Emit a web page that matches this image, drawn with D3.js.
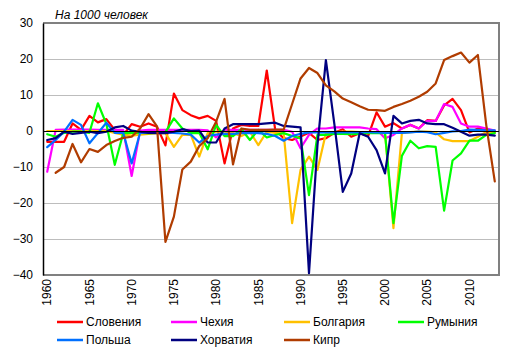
<!DOCTYPE html>
<html><head><meta charset="utf-8">
<script src="https://cdn.jsdelivr.net/npm/d3@7"></script>
<style>body{margin:0;background:#fff}svg{display:block}</style>
</head><body>
<svg id="c" width="515" height="357"></svg>
<script>
const years = d3.range(1960, 2014);
const xTickYears = [1960,1965,1970,1975,1980,1985,1990,1995,2000,2005,2010];
const yTicks = [30,20,10,0,-10,-20,-30,-40];
const titleText = "На 1000 человек";
const seriesNames = ["Словения","Чехия","Болгария","Румыния","Польша","Хорватия","Кипр"];
const seriesColors = ["#FF0000","#FF00FF","#FFC000","#00FF00","#0070FF","#000080","#B03C00"];

const slovenia = [-3,-3,-3,2.1,0.3,4.2,2.4,3.3,0.3,-1.1,
  1.9,1.2,2.1,1.2,-4,10.4,5.8,4.4,3.5,4.2,
  2.8,-9,0.7,1.7,1.4,1.4,16.8,0.3,-2,-2.5,
  -1.5,-0.5,-2.5,-2,-0.5,0.5,-1.6,-0.6,-1.4,5.2,
  1.2,2.2,0.7,1.7,0.7,3,2.8,7.1,8.9,5.8,
  -0.4,0.7,0.3,-0.4];
const czech = [-11.3,0.3,0.4,0.4,0.4,0.4,0.3,0.3,0.3,0.3,
  -12.5,0.1,0.3,0.3,0.3,0.3,0.3,0.3,0.3,0.2,
  -1.8,0.3,0.3,0.3,0.3,0.3,0.3,0.3,0.3,-0.2,
  -4.8,-1.1,0.7,0.7,1,1,1,1,0.7,0.5,
  -2,-1.1,0.7,1.7,0.7,2.8,2.8,7.5,6.7,2.1,
  1.2,1.2,0.7,0.1];
const bulgaria = [0,0,0,0,0,0,0,0,-0.5,-1,
  -1.3,-1,-0.8,-0.6,-0.6,-4.4,-1.1,-1,-7.1,-0.6,
  -0.2,-0.2,-0.6,-1.4,-0.2,-3.9,-0.2,-0.5,-0.5,-25.6,
  -10.8,-7.1,-10.8,-0.6,-0.3,-0.2,-0.2,-0.3,-0.3,-0.3,
  -0.6,-27,-0.6,-0.3,-0.2,-0.2,-0.4,-2.3,-2.8,-2.8,
  -2.8,-1.6,-0.3,-0.3];
const romania = [-0.9,-1.6,-0.5,-0.2,-0.2,-0.5,7.7,2,-9.4,-0.6,
  -0.5,-0.5,-0.6,-0.5,-0.3,3.5,0.7,-0.6,-0.5,-5.1,
  1.7,-1.4,-1.4,0.5,-2.5,0.3,-1.8,-1.1,-0.6,-1.4,
  -2,-17.8,-1.1,-1.1,-0.8,-0.8,-0.9,-0.8,-0.6,-0.6,
  -0.6,-25.6,-6.9,-2.7,-4.8,-4.2,-4.4,-22.1,-8.2,-6.2,
  -2.7,-2.7,-1.1,-0.6];
const poland = [-4.5,-2.5,-0.2,3.1,1.7,-3.4,-0.6,2.3,-0.5,-0.5,
  -9,-0.5,-0.5,-0.4,-0.4,-0.5,-0.7,-1,-3.2,-1.4,
  -1,-0.8,-0.8,-0.6,-0.5,-0.6,-0.8,-1.4,-2.7,-1.4,
  -0.8,-0.4,-0.4,-0.3,-0.4,-0.4,-0.4,-0.3,-0.3,-0.4,
  -0.5,-0.5,-0.5,-0.4,-0.2,-0.3,-0.9,-0.5,-0.1,0,
  0.4,0.3,0.2,0.2];
const croatia = [-2.5,-2,-0.2,-0.8,-0.5,-0.2,-0.6,-0.2,1,1.4,
  0.1,-0.2,-0.5,-0.6,-0.6,-0.2,0.5,0,0.1,-3.2,
  -3.2,0.7,1.9,1.9,1.9,1.9,2.1,2.3,1.4,1.2,
  1,-39.5,-4,19.7,2,-16.9,-11.8,-0.6,-1.6,-5.3,
  -11.8,4.2,2.1,2.8,3.1,2.1,1.9,1.9,0.9,-0.2,
  -1.3,-1,-1,-1.3];
const cyprus = [null,-11.6,-10,-3.6,-8.7,-5,-5.8,-3.9,-2.8,-1.9,
  -1.6,0.7,4.7,1.3,-30.8,-23.8,-10.7,-8.5,-4.2,-2,
  2.6,8.9,-9.3,0.7,0.3,0.3,0.3,0.4,0.4,7.5,
  14.6,17.5,16.1,12.7,11,9,8,6.9,5.9,5.8,
  5.6,6.7,7.5,8.4,9.5,10.9,13.2,19.7,20.8,21.8,
  19,21.1,1.5,-14];

const seriesValues = [slovenia, czech, bulgaria, romania, poland, croatia, cyprus];

const svg = d3.select("#c");
const L = 43, R = 499, T = 23, B = 275;
const FONT = "'Liberation Sans', Arial, sans-serif";

const x = d3.scaleBand().domain(years).range([L, R]).padding(0);
const xc = d => x(d) + x.bandwidth() / 2;
const y = d3.scaleLinear().domain([-40, 30]).range([B, T]);

// gridlines
svg.append("g").selectAll("line").data(yTicks.filter(v => v !== 0 && v !== 30 && v !== -40))
  .join("line").attr("x1", L).attr("x2", R)
  .attr("y1", d => y(d)).attr("y2", d => y(d))
  .attr("stroke", "#BDBDBD").attr("stroke-width", 1).attr("shape-rendering", "crispEdges");

// plot border (top, right, bottom)
svg.append("path")
  .attr("d", `M${L},${y(30)}H${R}V${y(-40)}H${L}`)
  .attr("fill", "none").attr("stroke", "#808080").attr("stroke-width", 1.5)
  .attr("shape-rendering", "crispEdges");

// y axis
const yAxis = d3.axisLeft(y).tickValues(yTicks).tickSize(0).tickPadding(10);
const gy = svg.append("g").attr("transform", `translate(${L},0)`).call(yAxis);
gy.select(".domain").attr("stroke", "#000").attr("stroke-width", 1.5);
gy.selectAll("text").attr("font-family", FONT).attr("font-size", 12).attr("fill", "#000");

// lines
const line = d3.line().defined(d => d.v !== null).x(d => xc(d.year)).y(d => y(d.v));
seriesValues.forEach((vals, i) => {
  const pts = years.map((yr, k) => ({year: yr, v: vals[k]}));
  svg.append("path").datum(pts)
    .attr("d", line).attr("fill", "none")
    .attr("stroke", seriesColors[i]).attr("stroke-width", 2.2)
    .attr("stroke-linejoin", "round").attr("stroke-linecap", "round");
});

// zero axis line
svg.append("line").attr("x1", L).attr("x2", R).attr("y1", y(0)).attr("y2", y(0))
  .attr("stroke", "#000").attr("stroke-width", 1).attr("shape-rendering", "crispEdges");

// x labels (rotated)
const xAxis = d3.axisBottom(x).tickValues(xTickYears).tickSize(0).tickPadding(0);
const gx = svg.append("g").attr("transform", `translate(0,${B})`).call(xAxis);
gx.select(".domain").remove();
gx.selectAll("text")
  .attr("font-family", FONT).attr("font-size", 12).attr("fill", "#000")
  .attr("text-anchor", "end").attr("dy", "0.35em")
  .attr("transform", "translate(0,4) rotate(-90)")
  .attr("x", 0).attr("y", 0);

// title
svg.append("text").attr("x", 55).attr("y", 19)
  .attr("font-family", FONT).attr("font-size", 12).attr("font-style", "italic")
  .text(titleText);

// legend
const colX = [57, 171, 284, 398];
const rowY = [322, 340];
const lg = svg.append("g").selectAll("g").data(seriesNames).join("g")
  .attr("transform", (d, i) => `translate(${colX[i % 4]},${rowY[Math.floor(i / 4)]})`);
lg.append("line").attr("x1", 0).attr("x2", 26).attr("y1", 0).attr("y2", 0)
  .attr("stroke", (d, i) => seriesColors[i]).attr("stroke-width", 2.5);
lg.append("text").attr("x", 29).attr("y", 0).attr("dy", "0.35em")
  .attr("font-family", FONT).attr("font-size", 12).text(d => d);
</script>
</body></html>
